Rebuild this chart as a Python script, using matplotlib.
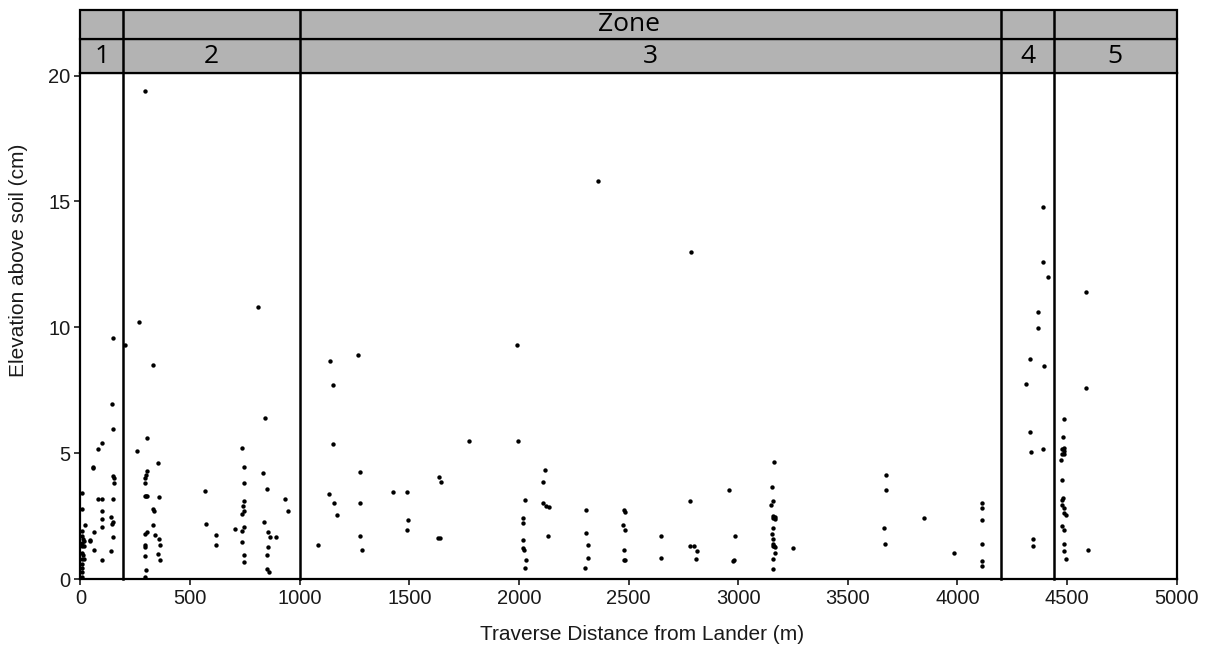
import matplotlib
matplotlib.use('Agg')
import matplotlib.pyplot as plt
from matplotlib.patches import Rectangle

# zone boundaries (m) and labels
zone_edges = [0, 195, 1000, 4200, 4440, 5000]
zone_labels = ['1', '2', '3', '4', '5']

# traverse distance (m) / elevation above soil (cm), read per zone
zone1_x = [5, 5, 6, 8, 12, 16, 7, 5, 15, 7, 10, 7, 15, 5, 7, 5, 5, 5,
           21, 43, 45, 55, 58, 64, 64, 79, 79, 98, 98, 98, 98, 98, 98,
           140, 143, 149, 140, 149, 146, 149, 149, 155, 152, 149, 149]
zone1_y = [3.4, 2.8, 1.9, 1.7, 1.6, 1.5, 1.45, 1.3, 1.3, 1.05, 0.95, 0.8, 0.8, 0.6, 0.45, 0.27, 0.1, 0.0,
           2.16, 1.57, 1.5, 4.47, 4.4, 1.87, 1.17, 5.17, 3.17, 5.4, 3.17, 2.69, 2.4, 2.07, 0.77,
           2.47, 2.2, 2.27, 1.1, 9.57, 6.97, 5.97, 4.1, 4.0, 3.8, 3.17, 1.69]

zone2_x = [204, 268, 259, 293, 293, 296, 302, 299, 302, 296, 299, 305, 296, 302, 293, 293, 293, 299, 293,
           332, 329, 335, 332, 338, 354, 360, 360, 363, 354, 363, 570, 573, 619, 619, 707,
           738, 744, 747, 747, 741, 747, 738, 744, 738, 738, 744, 747,
           811, 841, 832, 851, 835, 854, 863, 890, 854, 851, 851, 860, 933, 948]
zone2_y = [9.3, 10.2, 5.1, 19.4, 3.8, 4.0, 4.3, 4.15, 5.6, 3.3, 3.3, 3.3, 1.8, 1.87, 1.37, 1.29, 0.9, 0.37, 0.07,
           8.5, 2.77, 2.7, 2.16, 1.77, 4.6, 3.27, 1.6, 1.36, 0.99, 0.77, 3.49, 2.17, 1.77, 1.37, 2.0,
           5.2, 4.47, 3.8, 3.1, 2.9, 2.69, 2.6, 2.08, 1.9, 1.47, 0.97, 0.69,
           10.8, 6.4, 4.2, 3.57, 2.27, 1.87, 1.69, 1.69, 1.29, 0.97, 0.4, 0.29, 3.17, 2.69]

zone3_x = [1082, 1137, 1152, 1152, 1134, 1155, 1171, 1268, 1277, 1277, 1277, 1284,
           1424, 1491, 1494, 1491, 1634, 1643, 1631, 1640, 1774,
           1991, 1997, 2027, 2018, 2018, 2018, 2018, 2024, 2030, 2027,
           2119, 2110, 2110, 2125, 2137, 2131, 2308, 2308, 2314, 2314, 2302,
           2361, 2479, 2485, 2473, 2485, 2479, 2479, 2485, 2649, 2649,
           2786, 2782, 2782, 2800, 2810, 2807, 2957, 2986, 2977, 2983,
           3163, 3154, 3157, 3151, 3160, 3169, 3166, 3157, 3157, 3154, 3157, 3157, 3163, 3169, 3160, 3169, 3157, 3160,
           3251, 3672, 3672, 3665, 3669, 3848, 3982, 4113, 4113, 4113, 4113, 4113, 4113]
zone3_y = [1.34, 8.68, 7.69, 5.37, 3.36, 3.04, 2.54, 8.9, 4.26, 3.04, 1.73, 1.14,
           3.45, 3.45, 2.35, 1.96, 4.07, 3.86, 1.64, 1.64, 5.48,
           9.3, 5.48, 3.13, 2.44, 2.24, 1.55, 1.24, 1.16, 0.74, 0.42,
           4.35, 3.86, 3.04, 2.92, 2.86, 1.73, 2.74, 1.83, 1.34, 0.83, 0.42,
           15.83, 2.74, 2.65, 2.14, 1.96, 1.14, 0.74, 0.74, 1.73, 0.85,
           13.0, 3.11, 1.31, 1.31, 1.11, 0.81, 3.52, 1.71, 0.71, 0.77,
           4.64, 3.64, 3.11, 2.94, 2.51, 2.46, 2.37, 2.42, 2.01, 1.80, 1.61, 1.39, 1.31, 1.26, 1.31, 1.03, 0.81, 0.40,
           1.22, 4.14, 3.52, 2.01, 1.39, 2.42, 1.03, 3.03, 2.83, 2.33, 1.39, 0.71, 0.50]

zone4_x = [4390, 4390, 4412, 4366, 4369, 4329, 4393, 4311, 4333, 4336, 4390, 4345, 4345]
zone4_y = [14.77, 12.59, 12.0, 10.6, 9.97, 8.76, 8.47, 7.75, 5.86, 5.04, 5.15, 1.61, 1.31]

zone5_x = [4485, 4482, 4485, 4479, 4488, 4476, 4485, 4472, 4479, 4482, 4479, 4479, 4485, 4485, 4494,
           4476, 4488, 4485, 4485, 4494, 4585, 4585, 4597]
zone5_y = [6.36, 5.63, 5.22, 5.16, 5.1, 4.95, 4.95, 4.74, 3.92, 3.23, 3.15, 2.94, 2.84, 2.62, 2.53,
           2.12, 1.93, 1.39, 1.11, 0.81, 11.39, 7.61, 1.17]

plt.rcParams['font.family'] = ['Liberation Sans', 'DejaVu Sans']

fig = plt.figure(figsize=(12.1, 6.47), dpi=100)
ax = fig.add_axes([0.0665, 0.105, 0.906, 0.782])

for xs, ys in [(zone1_x, zone1_y), (zone2_x, zone2_y), (zone3_x, zone3_y),
               (zone4_x, zone4_y), (zone5_x, zone5_y)]:
    ax.scatter(xs, ys, s=10, color='black', linewidths=0, zorder=3)

ax.set_xlim(0, 5000)
ax.set_ylim(0, 20.1)
ax.set_xticks(range(0, 5001, 500))
ax.set_yticks([0, 5, 10, 15, 20])
ax.tick_params(direction='out', length=4, width=1.2, labelsize=14.5, pad=3, colors='#1a1a1a')
for sp in ax.spines.values():
    sp.set_linewidth(1.6)
ax.set_xlabel('Traverse Distance from Lander (m)', fontsize=15, color='#1a1a1a')
ax.set_ylabel('Elevation above soil (cm)', fontsize=15, color='#1a1a1a')
ax.xaxis.set_label_coords(0.512, -0.09)
ax.yaxis.set_label_coords(-0.048, 0.63)

# zone header above the plot
tr = ax.get_xaxis_transform()
row2 = (1.0, 1.0672)
row1 = (1.0672, 1.1245)
for lo, hi in [row2, row1]:
    ax.add_patch(Rectangle((0, lo), 5000, hi - lo, transform=tr, clip_on=False,
                           facecolor='#b3b3b3', edgecolor='black', linewidth=1.6, zorder=4))
for xb in zone_edges[1:-1]:
    ax.plot([xb, xb], [0, row1[1]], transform=tr, clip_on=False,
            color='black', linewidth=1.8, zorder=5)
for i, lab in enumerate(zone_labels):
    xc = (zone_edges[i] + zone_edges[i + 1]) / 2
    ax.text(xc, (row2[0] + row2[1]) / 2, lab, transform=tr, ha='center', va='center',
            fontsize=19, family=['Open Sans', 'DejaVu Sans'], zorder=6)
ax.text(2500, (row1[0] + row1[1]) / 2, 'Zone', transform=tr, ha='center', va='center',
        fontsize=19, family=['Open Sans', 'DejaVu Sans'], zorder=6)

fig.savefig('out.png', dpi=100)
